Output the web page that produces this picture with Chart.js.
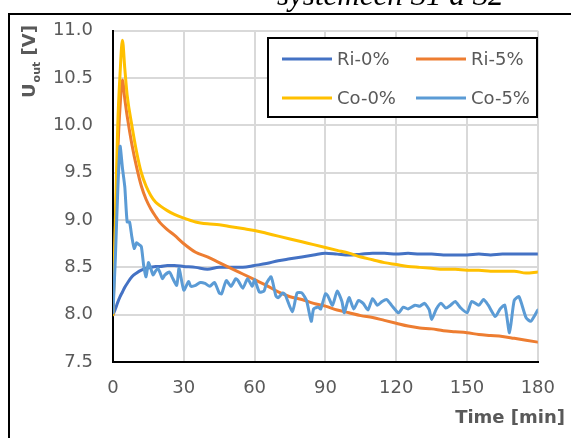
<!DOCTYPE html>
<html>
<head>
<meta charset="utf-8">
<script src="https://cdn.jsdelivr.net/npm/chart.js@4.4.0/dist/chart.umd.min.js"></script>
<style>
  html, body { margin: 0; padding: 0; background: #fff; }
  canvas { display: block; }
</style>
</head>
<body>
<canvas id="uoutChart" width="571" height="438"></canvas>
<script>
// values
const timeSmooth = [0,1,2,3,4,5,6,8,10,12,14,16,18,20,23,26,30,35,40,45,50,55,60,65,70,75,80,85,90,95,100,105,110,115,120,125,130,135,140,145,150,155,160,165,170,175,180];
const ri0 = [8.00,8.06,8.13,8.19,8.24,8.29,8.33,8.40,8.44,8.47,8.49,8.50,8.51,8.51,8.52,8.52,8.51,8.50,8.48,8.50,8.50,8.50,8.52,8.54,8.57,8.59,8.61,8.63,8.65,8.64,8.63,8.64,8.65,8.65,8.64,8.65,8.64,8.64,8.63,8.63,8.63,8.64,8.63,8.64,8.64,8.64,8.64];
const ri5 = [8.00,8.90,9.70,10.20,10.48,10.28,10.10,9.80,9.56,9.36,9.22,9.12,9.04,8.97,8.90,8.84,8.75,8.66,8.61,8.55,8.49,8.43,8.37,8.31,8.24,8.19,8.16,8.12,8.09,8.05,8.02,7.99,7.97,7.94,7.91,7.88,7.86,7.85,7.83,7.82,7.81,7.79,7.78,7.77,7.75,7.73,7.71];
const co0 = [8.00,9.00,10.00,10.55,10.90,10.60,10.32,10.00,9.72,9.50,9.36,9.26,9.19,9.15,9.10,9.06,9.02,8.98,8.96,8.95,8.93,8.91,8.89,8.86,8.83,8.80,8.77,8.74,8.71,8.68,8.65,8.61,8.58,8.55,8.53,8.51,8.50,8.49,8.48,8.48,8.47,8.47,8.46,8.46,8.46,8.44,8.45];

const co5Time = [0,1,2,3,4,5,6,7,8,9,10,11,12,13,14,15,16,17,18,19,20,21,22,24,25,27,28,30,32,33,35,37,39,41,43,45,46,48,50,52,53,55,57,59,60,62,64,65,67,69,70,72,73,76,78,80,82,84,85,87,88,90,91,93,95,97,98,100,102,104,106,108,110,112,114,116,118,121,123,125,128,130,132,134,135,137,139,141,143,145,147,150,152,155,157,159,162,164,166,168,170,172,175,177,180];
const co5 = [8.02,8.60,9.30,9.78,9.55,9.35,8.98,8.98,8.82,8.70,8.76,8.74,8.72,8.52,8.40,8.55,8.49,8.42,8.46,8.49,8.44,8.38,8.42,8.45,8.40,8.31,8.49,8.26,8.35,8.30,8.31,8.34,8.33,8.30,8.34,8.23,8.22,8.36,8.30,8.38,8.36,8.28,8.38,8.30,8.37,8.24,8.25,8.33,8.40,8.20,8.18,8.23,8.21,8.03,8.23,8.23,8.15,7.93,8.06,8.08,8.06,8.22,8.20,8.10,8.25,8.14,8.02,8.18,8.06,8.15,8.12,8.05,8.17,8.10,8.14,8.16,8.10,8.02,8.08,8.06,8.10,8.09,8.12,8.05,7.95,8.06,8.12,8.07,8.10,8.14,8.08,8.02,8.14,8.10,8.16,8.10,7.98,8.06,8.10,7.81,8.15,8.19,7.97,7.93,8.05];

const seriesNames = ["Ri-0%", "Ri-5%", "Co-0%", "Co-5%"];
const seriesColors = ["#4472C4", "#ED7D31", "#FFC000", "#5B9BD5"];
const yTicks = [7.5, 8.0, 8.5, 9.0, 9.5, 10.0, 10.5, 11.0];
const xTicks = [0, 30, 60, 90, 120, 150, 180];

const GREY = "#595959";
const FONT = "'DejaVu Sans', sans-serif";

function pts(xs, ys) {
  return ys.map(function (v, i) { return { x: xs[i], y: v }; });
}

// frame, header text, axis titles and the boxed legend
const decorations = {
  id: "decorations",
  afterDraw(chart) {
    const ctx = chart.ctx;
    ctx.save();

    // outer frame (runs off the right and bottom edges)
    ctx.strokeStyle = "#000";
    ctx.lineWidth = 2;
    ctx.strokeRect(9, 14, 700, 600);

    // cut-off caption above the frame
    ctx.fillStyle = "#000";
    ctx.font = "italic 31px 'Liberation Serif', serif";
    ctx.textAlign = "left";
    ctx.textBaseline = "alphabetic";
    ctx.fillText("systemeen S1 a S2", 277, 5);

    // y title: U_out [V]
    ctx.save();
    ctx.translate(35, 98);
    ctx.rotate(-Math.PI / 2);
    ctx.fillStyle = GREY;
    ctx.textBaseline = "alphabetic";
    ctx.font = "bold 18px " + FONT;
    ctx.fillText("U", 0, 0);
    let w = ctx.measureText("U").width;
    ctx.font = "bold 11px " + FONT;
    ctx.fillText("out", w + 1, 5);
    w += ctx.measureText("out").width + 1;
    ctx.font = "bold 18px " + FONT;
    ctx.fillText(" [V]", w, 0);
    ctx.restore();

    // x title
    ctx.fillStyle = GREY;
    ctx.font = "bold 18px " + FONT;
    ctx.textAlign = "right";
    ctx.textBaseline = "middle";
    ctx.fillText("Time [min]", 565, 418);

    // legend box
    const lx = 268, ly = 38, lw = 269, lh = 79;
    ctx.fillStyle = "#fff";
    ctx.fillRect(lx, ly, lw, lh);
    ctx.strokeStyle = "#000";
    ctx.lineWidth = 2;
    ctx.strokeRect(lx, ly, lw, lh);
    const cols = [282, 416];
    const rows = [59, 98];
    ctx.font = "18px " + FONT;
    ctx.textAlign = "left";
    ctx.textBaseline = "middle";
    seriesNames.forEach(function (name, i) {
      const cx = cols[i % 2], cy = rows[Math.floor(i / 2)];
      ctx.strokeStyle = seriesColors[i];
      ctx.lineWidth = 3;
      ctx.beginPath();
      ctx.moveTo(cx, cy);
      ctx.lineTo(cx + 50, cy);
      ctx.stroke();
      ctx.fillStyle = GREY;
      ctx.fillText(name, cx + 55, cy + 1);
    });

    ctx.restore();
  }
};

new Chart(document.getElementById("uoutChart"), {
  type: "line",
  data: {
    datasets: [
      { label: seriesNames[0], data: pts(timeSmooth, ri0), borderColor: seriesColors[0], order: 4, cubicInterpolationMode: "monotone" },
      { label: seriesNames[1], data: pts(timeSmooth, ri5), borderColor: seriesColors[1], order: 3, cubicInterpolationMode: "monotone" },
      { label: seriesNames[2], data: pts(timeSmooth, co0), borderColor: seriesColors[2], order: 2, cubicInterpolationMode: "monotone" },
      { label: seriesNames[3], data: pts(co5Time, co5), borderColor: seriesColors[3], order: 1, tension: 0.2 }
    ]
  },
  options: {
    responsive: false,
    devicePixelRatio: 1,
    animation: false,
    layout: { padding: { top: 27, right: 29, left: 0, bottom: 0 } },
    elements: {
      point: { radius: 0 },
      line: { borderWidth: 3, fill: false, borderCapStyle: "round", borderJoinStyle: "round" }
    },
    plugins: { legend: { display: false }, tooltip: { enabled: false } },
    scales: {
      x: {
        type: "linear",
        min: 0, max: 180,
        afterBuildTicks(scale) { scale.ticks = xTicks.map(function (v) { return { value: v }; }); },
        afterFit(scale) { scale.height = 76; },
        ticks: { color: GREY, font: { family: FONT, size: 18 }, padding: 16, maxRotation: 0 },
        grid: { color: "#D9D9D9", lineWidth: 2, drawTicks: false },
        border: { color: "#000", width: 2 }
      },
      y: {
        min: 7.5, max: 11,
        afterBuildTicks(scale) { scale.ticks = yTicks.map(function (v) { return { value: v }; }); },
        afterFit(scale) { scale.width = 113; },
        ticks: { color: GREY, font: { family: FONT, size: 18 }, padding: 20, callback: function (v) { return Number(v).toFixed(1); } },
        grid: { color: "#D9D9D9", lineWidth: 2, drawTicks: false },
        border: { color: "#000", width: 2 }
      }
    }
  },
  plugins: [decorations]
});
</script>
</body>
</html>
